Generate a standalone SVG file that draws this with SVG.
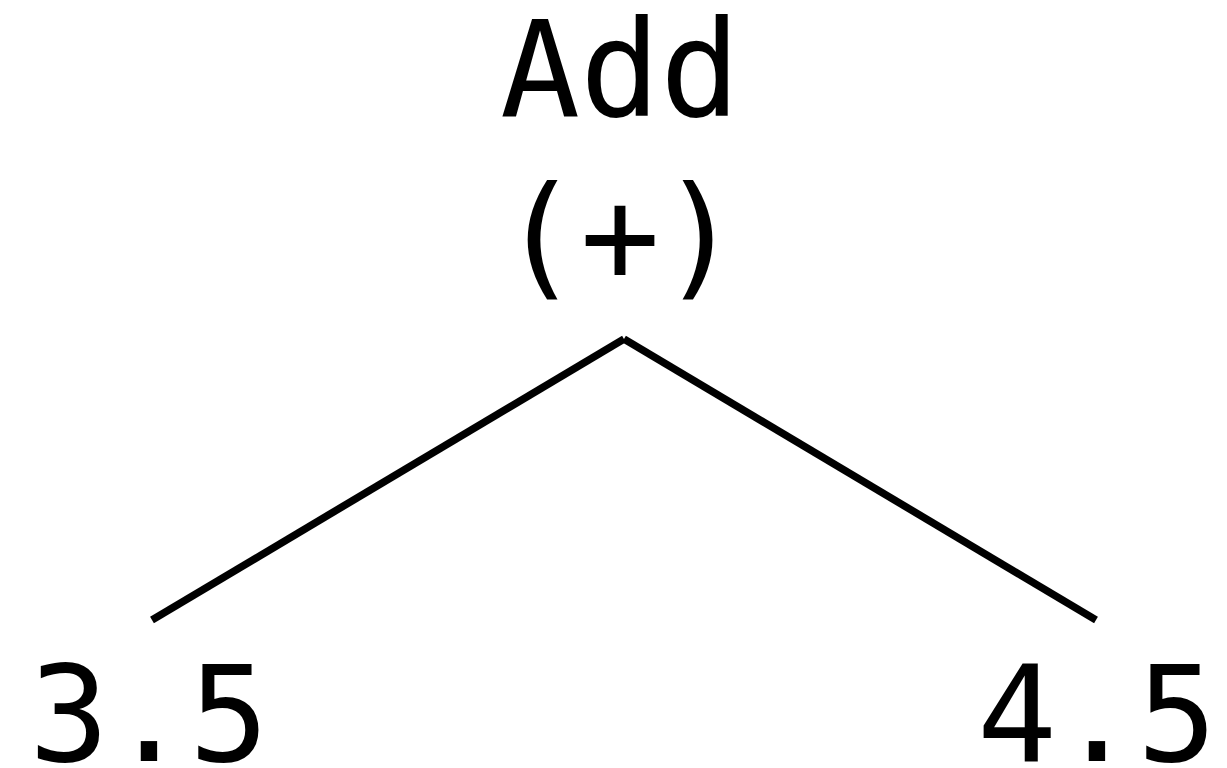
<svg xmlns="http://www.w3.org/2000/svg" width="1227" height="768" viewBox="0 0 1227 768">
<style>
.t{font-family:"DejaVu Sans Mono",monospace;font-size:133px;fill:#000;text-anchor:middle}
.e{stroke:#000;stroke-width:7.5;fill:none}
</style>
<rect width="1227" height="768" fill="#fff"/>
<g id="connectors">
<line class="e" x1="624" y1="339" x2="152" y2="620"/>
<line class="e" x1="624" y1="339" x2="1096" y2="620"/>
</g>
<g id="node-add">
<text class="t" x="620" y="116">Add</text>
<text class="t" x="620" y="282">(+)</text>
</g>
<g id="node-left">
<text class="t" x="149" y="761">3.5</text>
</g>
<g id="node-right">
<text class="t" x="1097" y="761">4.5</text>
</g>
</svg>
